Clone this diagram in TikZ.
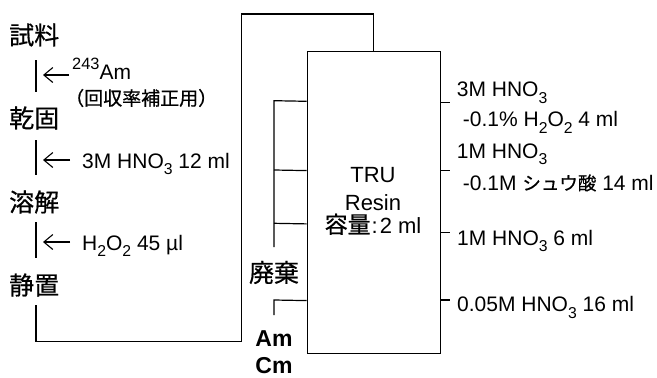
\documentclass[tikz,border=0pt]{standalone}
\usepackage{fontspec}
\setmainfont{Liberation Sans}
\newfontfamily\jp[FakeBold=0.6]{Noto Sans CJK JP}
\usetikzlibrary{arrows.meta}
\newcommand\sbs[1]{\raisebox{-0.3em}{\scalebox{0.75}{#1}}}
\newcommand\sps[1]{\raisebox{0.47em}{\scalebox{0.78}{#1}}}
\tikzset{
  ln/.style={line width=1.2pt, black},
  jlab/.style={font=\jp\fontsize{25}{25}\selectfont, inner sep=0pt},
  jsmall/.style={font=\jp\fontsize{19}{19}\selectfont, inner sep=0pt},
  tx/.style={font=\fontsize{21}{21}\selectfont, inner sep=0pt, anchor=base west},
  ctx/.style={font=\fontsize{22}{22}\selectfont, inner sep=0pt, anchor=base},
  bld/.style={font=\bfseries\fontsize{23}{23}\selectfont, inner sep=0pt, anchor=base},
  addarrow/.style={line width=1.1pt, -{Straight Barb[length=9pt,width=15pt,line width=1.1pt]}},
}
\begin{document}
\begin{tikzpicture}[x=1pt,y=-1pt]
\path[use as bounding box] (0,0) rectangle (657,378);

% left steps
\node[jlab, anchor=west] (s1) at (9,35) {試料};
\node[jlab, anchor=west] (s2) at (9,118) {乾固};
\node[jlab, anchor=west] (s3) at (9,202) {溶解};
\node[jlab, anchor=west] (s4) at (9,285) {静置};

\coordinate (v1a) at (36,60);  \coordinate (v1b) at (36,92);
\coordinate (v2a) at (36,140); \coordinate (v2b) at (36,175);
\coordinate (v3a) at (36,222); \coordinate (v3b) at (36,258);
\draw[ln] (v1a) -- (v1b);
\draw[ln] (v2a) -- (v2b);
\draw[ln] (v3a) -- (v3b);

% additions
\node[tx] (a1) at (72,79) {\sps{243}Am};
\node[jsmall, anchor=west] (a1b) at (65,98) {（回収率補正用）};
\node[tx] (a2) at (82,168) {3M HNO\sbs{3} 12 ml};
\node[tx] (a3) at (82,250) {H\sbs{2}O\sbs{2} 45 µl};
\coordinate (r1a) at (69,75);  \coordinate (r1b) at (43,75);
\coordinate (r2a) at (70,160); \coordinate (r2b) at (43,160);
\coordinate (r3a) at (70,242); \coordinate (r3b) at (43,242);
\draw[addarrow] (r1a) -- (r1b);
\draw[addarrow] (r2a) -- (r2b);
\draw[addarrow] (r3a) -- (r3b);

% column
\node[draw, ln, fill=white, minimum width=132.8pt, minimum height=302pt, anchor=north west, inner sep=0pt] (box) at (306.7,50.7) {};
\node[ctx] (t1) at (373,182.7) {TRU};
\node[ctx] (t2) at (373,210) {Resin};
\node[ctx] (t3) at (373,233) {{\jp\fontsize{23}{23}\selectfont 容量}\hspace{1pt}:\hspace{2pt}2 ml};

% loop from sample to column top
\coordinate (ls) at (36,305);
\coordinate (lc1) at (241.5,341.7);
\coordinate (lc2) at (241.5,14);
\draw[ln] (ls) |- (lc1) -- (lc2) -| (box.north);

% waste
\coordinate (wb) at (274,247);
\coordinate (wt) at (274,100.7);
\coordinate (w2) at (274,170);
\coordinate (w3) at (274,223.3);
\draw[ln] (wb) -- (wt) -- ([yshift=101pt]box.west);
\draw[ln] (w2) -- ([yshift=31.7pt]box.west);
\draw[ln] (w3) -- ([yshift=-21.6pt]box.west);
\node[jlab] (waste) at (274,272.5) {廃棄};

% Am Cm
\coordinate (am1) at (274,315);
\coordinate (am2) at (274,300);
\draw[ln] (am1) -- (am2) -- ([yshift=-98.3pt]box.west);
\node[bld] (am) at (274,346) {Am};
\node[bld] (cm) at (274,373.5) {Cm};

% eluents
\draw[ln] ([yshift=100pt]box.east) -- ++(9,0);
\draw[ln] ([yshift=31.7pt]box.east) -- ++(9,0);
\draw[ln] ([yshift=-30pt]box.east) -- ++(9,0);
\draw[ln] ([yshift=-97.6pt]box.east) -- ++(9,0);
\node[tx] (e1) at (456.7,96.7) {3M HNO\sbs{3}};
\node[tx] (e1b) at (462.7,126.7) {-0.1\% H\sbs{2}O\sbs{2} 4 ml};
\node[tx] (e2) at (456.7,158.3) {1M HNO\sbs{3}};
\node[tx] (e2b) at (462.7,190) {-0.1M {\jp\fontsize{18.5}{18.5}\selectfont シュウ酸} 14 ml};
\node[tx] (e3) at (457,245) {1M HNO\sbs{3} 6 ml};
\node[tx] (e4) at (457,311.7) {0.05M HNO\sbs{3} 16 ml};
\end{tikzpicture}
\end{document}
